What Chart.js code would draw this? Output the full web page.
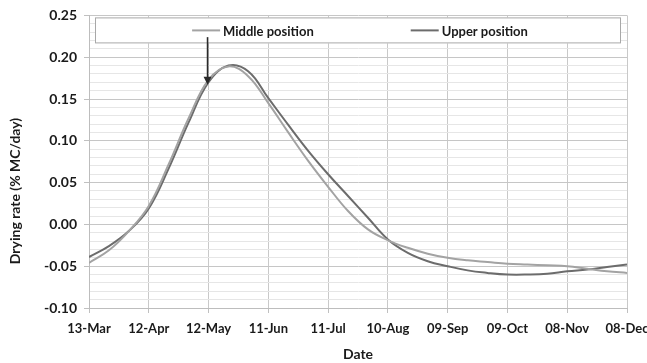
<!DOCTYPE html>
<html>
<head>
<meta charset="utf-8">
<script src="https://cdn.jsdelivr.net/npm/chart.js@4.4.1/dist/chart.umd.min.js"></script>
<style>
  html, body { margin: 0; padding: 0; background: #fff; }
  #wrap { width: 647px; height: 363px; position: relative; }
</style>
</head>
<body>
<div id="wrap"><canvas id="rateChart"></canvas></div>
<script>
// Days counted from 13-Mar, one reading every 10 days
const days = [0, 10, 20, 30, 40, 50, 60, 70, 80, 90, 100, 110, 120, 130, 140,
              150, 160, 170, 180, 190, 200, 210, 220, 230, 240, 250, 260, 270];
const middlePosition = [-0.046, -0.031, -0.008, 0.022, 0.072, 0.127, 0.173, 0.189, 0.177, 0.145,
                        0.110, 0.076, 0.045, 0.016, -0.006, -0.019, -0.028, -0.035, -0.040, -0.043,
                        -0.045, -0.047, -0.048, -0.049, -0.050, -0.053, -0.056, -0.058];
const upperPosition = [-0.039, -0.026, -0.008, 0.019, 0.067, 0.122, 0.170, 0.190, 0.183, 0.151,
                       0.119, 0.088, 0.060, 0.034, 0.008, -0.018, -0.034, -0.044, -0.050, -0.055,
                       -0.058, -0.060, -0.060, -0.059, -0.056, -0.054, -0.051, -0.048];
const dateLabels = ['13-Mar', '12-Apr', '12-May', '11-Jun', '11-Jul', '10-Aug',
                    '09-Sep', '09-Oct', '08-Nov', '08-Dec'];
const seriesNames = ['Middle position', 'Upper position'];
// arrow marking 12-May on the curves
const arrowDay = 59.5;
const arrowFrom = 0.224;
const arrowTo = 0.167;

const FONT = 'Lato, "Open Sans", sans-serif';

function toPoints(vals) {
    return days.map((d, i) => ({ x: d, y: vals[i] }));
}

function isMajor(v) {
    return Math.round(v * 100) % 5 === 0;
}

// legend box laid over the top of the plot, plus the arrow and y title
const overlayPlugin = {
    id: 'overlay',
    afterDatasetsDraw(chart) {
        const { ctx, chartArea: a, scales } = chart;
        ctx.save();

        // legend box
        const bx = a.left + 6, by = a.top + 2, bw = a.right - a.left - 12, bh = 26;
        ctx.fillStyle = '#fff';
        ctx.fillRect(bx, by, bw, bh);
        ctx.strokeStyle = '#a8a8a8';
        ctx.lineWidth = 1;
        ctx.strokeRect(bx + 0.5, by + 0.5, bw - 1, bh - 1);

        ctx.font = 'bold 13px ' + FONT;
        ctx.textBaseline = 'middle';
        const lineLen = 28, gap = 3, itemGap = 97;
        const items = chart.data.datasets.map(ds => ({
            label: ds.label, color: ds.borderColor,
            w: lineLen + gap + ctx.measureText(ds.label).width
        }));
        const total = items.reduce((s, it) => s + it.w, 0) + itemGap * (items.length - 1);
        let x = (a.left + a.right) / 2 - total / 2 + 2;
        const cy = by + bh / 2;
        items.forEach(it => {
            ctx.strokeStyle = it.color;
            ctx.lineWidth = 2;
            ctx.beginPath();
            ctx.moveTo(x, cy);
            ctx.lineTo(x + lineLen, cy);
            ctx.stroke();
            ctx.fillStyle = '#1a1a1a';
            ctx.fillText(it.label, x + lineLen + gap, cy + 1);
            x += it.w + itemGap;
        });

        // arrow
        const ax = scales.x.getPixelForValue(arrowDay);
        const y0 = scales.y.getPixelForValue(arrowFrom);
        const y1 = scales.y.getPixelForValue(arrowTo);
        ctx.strokeStyle = '#2a2a2a';
        ctx.fillStyle = '#2a2a2a';
        ctx.lineWidth = 1.6;
        ctx.beginPath();
        ctx.moveTo(ax, y0);
        ctx.lineTo(ax, y1 - 7);
        ctx.stroke();
        ctx.beginPath();
        ctx.moveTo(ax - 4, y1 - 8);
        ctx.lineTo(ax + 4, y1 - 8);
        ctx.lineTo(ax, y1);
        ctx.closePath();
        ctx.fill();

        // y axis title
        ctx.translate(15, 191);
        ctx.rotate(-Math.PI / 2);
        ctx.font = 'bold 14px ' + FONT;
        ctx.textAlign = 'center';
        ctx.fillStyle = '#1a1a1a';
        ctx.fillText('Drying rate (% MC/day)', 0, 0);
        ctx.restore();
    }
};

new Chart(document.getElementById('rateChart'), {
    type: 'line',
    data: {
        datasets: [
            {
                label: seriesNames[0],
                data: toPoints(middlePosition),
                borderColor: '#a3a3a3',
                borderWidth: 2,
                pointRadius: 0,
                tension: 0.4,
                fill: false
            },
            {
                label: seriesNames[1],
                data: toPoints(upperPosition),
                borderColor: '#6c6c6c',
                borderWidth: 2,
                pointRadius: 0,
                tension: 0.4,
                fill: false
            }
        ]
    },
    options: {
        responsive: true,
        maintainAspectRatio: false,
        animation: false,
        layout: { padding: { top: 12, right: 20, left: 0, bottom: 0 } },
        plugins: {
            legend: { display: false },
            tooltip: { enabled: false }
        },
        scales: {
            x: {
                type: 'linear',
                min: 0,
                max: 270,
                afterFit(s) {
                    s.height = 55;
                    // let the last date label run into the right margin
                    s.paddingLeft = 0;
                    s.paddingRight = 0;
                },
                ticks: {
                    stepSize: 30,
                    maxRotation: 0,
                    autoSkip: false,
                    padding: 8,
                    color: '#1a1a1a',
                    font: { family: FONT, size: 13, weight: 'bold' },
                    callback: (v, i) => dateLabels[i]
                },
                grid: { color: '#c9c9c9', tickLength: 5, tickColor: '#c0c0c0' },
                border: { color: '#bdbdbd' },
                title: {
                    display: true,
                    text: 'Date',
                    color: '#1a1a1a',
                    font: { family: FONT, size: 14, weight: 'bold' },
                    padding: { top: 0, bottom: 0 }
                }
            },
            y: {
                min: -0.10,
                max: 0.25,
                afterFit(s) { s.width = 89; },
                ticks: {
                    stepSize: 0.01,
                    autoSkip: false,
                    padding: 7,
                    color: '#1a1a1a',
                    font: { family: FONT, size: 14, weight: 'bold' },
                    callback: v => isMajor(v) ? (Math.round(v * 100) / 100).toFixed(2) : ''
                },
                grid: {
                    color: c => isMajor(c.tick.value) ? '#c6c6c6' : '#e6e6e6',
                    tickLength: 5,
                    tickColor: c => isMajor(c.tick.value) ? '#c0c0c0' : 'rgba(0,0,0,0)'
                },
                border: { color: '#bdbdbd' }
            }
        }
    },
    plugins: [overlayPlugin]
});
</script>
</body>
</html>
